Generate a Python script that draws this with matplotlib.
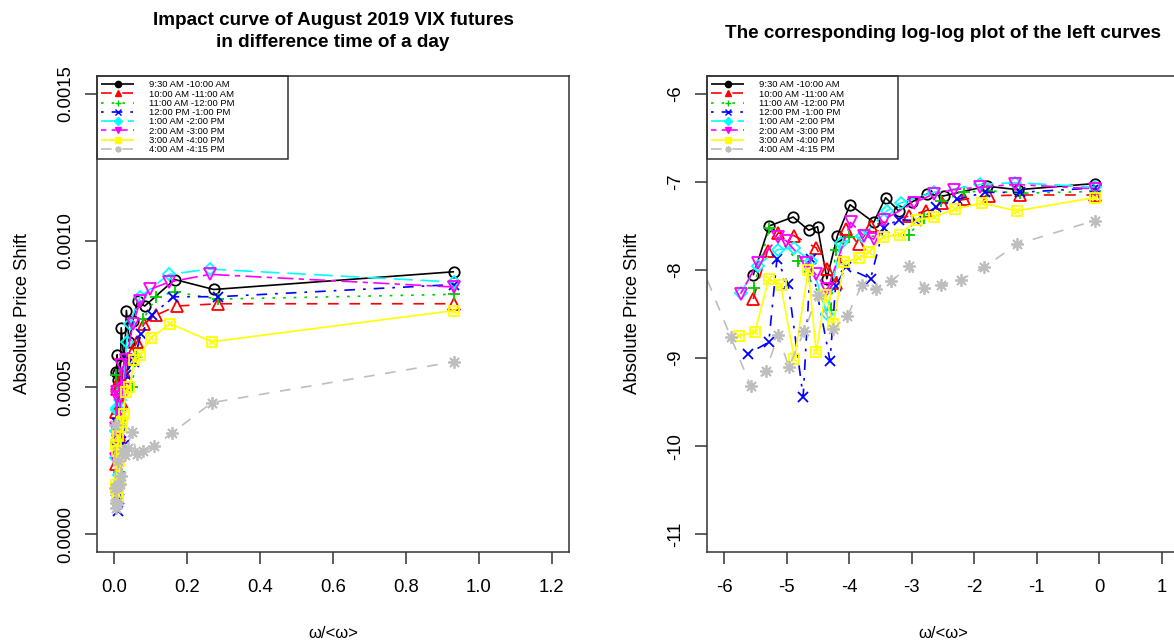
import numpy as np
import matplotlib
matplotlib.use("Agg")
import matplotlib.pyplot as plt
from matplotlib.lines import Line2D
from matplotlib.patches import Rectangle

plt.rcParams['font.family'] = ['Liberation Sans', 'DejaVu Sans']

# log(omega/<omega>) and log(price shift) per time window
x_0930 = [-5.54, -5.28, -4.90, -4.65, -4.51, -4.36, -4.19, -3.99, -3.61, -3.42, -3.21, -3.00, -2.76, -2.49, -1.80, -1.30, -0.07]
y_0930 = [-8.06, -7.50, -7.40, -7.55, -7.51, -8.10, -7.61, -7.26, -7.46, -7.18, -7.33, -7.23, -7.14, -7.16, -7.05, -7.09, -7.02]

x_1000 = [-5.54, -5.31, -5.14, -4.89, -4.53, -4.35, -4.22, -4.05, -3.85, -3.66, -3.05, -2.78, -2.51, -2.16, -1.77, -1.26, -0.07]
y_1000 = [-8.33, -7.78, -7.58, -7.61, -7.75, -7.99, -8.15, -7.54, -7.71, -7.50, -7.39, -7.33, -7.24, -7.20, -7.16, -7.15, -7.15]

x_1100 = [-5.53, -5.28, -4.83, -4.30, -4.22, -4.00, -3.05, -2.81, -2.54, -2.16, -1.80, -1.26, -0.07]
y_1100 = [-8.20, -7.52, -7.90, -8.46, -7.77, -7.63, -7.60, -7.41, -7.22, -7.12, -7.10, -7.13, -7.11]

x_1200 = [-5.62, -5.29, -5.16, -4.98, -4.74, -4.62, -4.31, -4.22, -4.05, -3.66, -3.45, -3.21, -2.94, -2.62, -2.27, -1.82, -1.26, -0.07]
y_1200 = [-8.95, -8.82, -7.88, -8.16, -9.44, -7.88, -9.03, -8.18, -7.97, -8.10, -7.52, -7.43, -7.44, -7.29, -7.20, -7.12, -7.12, -7.07]

x_1300 = [-5.74, -5.47, -5.15, -4.89, -4.62, -4.36, -4.14, -3.80, -3.40, -3.18, -2.65, -1.90, -1.34, -0.07]
y_1300 = [-8.26, -7.95, -7.77, -7.75, -7.90, -8.50, -7.69, -7.62, -7.33, -7.24, -7.12, -7.03, -7.01, -7.06]

x_1400 = [-5.74, -5.47, -5.14, -5.01, -4.70, -4.54, -4.35, -3.98, -3.77, -3.61, -3.45, -2.97, -2.65, -2.33, -1.90, -1.34, -0.07]
y_1400 = [-8.27, -7.92, -7.63, -7.67, -7.92, -8.05, -8.22, -7.46, -7.61, -7.65, -7.43, -7.24, -7.14, -7.09, -7.06, -7.03, -7.08]

x_1500 = [-5.76, -5.51, -5.29, -5.10, -4.88, -4.66, -4.53, -4.39, -4.26, -4.08, -3.85, -3.69, -3.46, -3.19, -2.91, -2.65, -2.30, -1.88, -1.32, -0.07]
y_1500 = [-8.75, -8.70, -8.10, -8.17, -9.01, -8.00, -8.93, -8.29, -8.61, -7.91, -7.87, -7.80, -7.63, -7.60, -7.43, -7.40, -7.31, -7.24, -7.33, -7.18]

x_1600 = [-6.40, -5.90, -5.58, -5.34, -5.14, -4.97, -4.72, -4.51, -4.26, -4.03, -3.80, -3.58, -3.33, -3.05, -2.80, -2.53, -2.21, -1.84, -1.32, -0.07]
y_1600 = [-7.90, -8.76, -9.32, -9.15, -8.74, -9.10, -8.69, -8.29, -8.67, -8.52, -8.17, -8.22, -8.13, -7.96, -8.20, -8.17, -8.11, -7.97, -7.71, -7.44]

labels = ["9:30 AM -10:00 AM", "10:00 AM -11:00 AM", "11:00 AM -12:00 PM", "12:00 PM -1:00 PM",
          "1:00 AM -2:00 PM", "2:00 AM -3:00 PM", "3:00 AM -4:00 PM", "4:00 AM -4:15 PM"]
xs = [x_0930, x_1000, x_1100, x_1200, x_1300, x_1400, x_1500, x_1600]
ys = [y_0930, y_1000, y_1100, y_1200, y_1300, y_1400, y_1500, y_1600]

# R base palette / lty / pch look-alikes
colors = ["#000000", "#FF0000", "#00CD00", "#0000FF", "#00FFFF", "#FF00FF", "#FFFF00", "#BEBEBE"]
dashes = [(0, ()), (0, (6.4, 6.4)), (0, (1.6, 4.8)), (0, (1.6, 4.8, 6.4, 4.8)),
          (0, (11.2, 4.8)), (0, (3.2, 3.2, 9.6, 3.2)), (0, ()), (0, (6.4, 6.4))]
markers = ["o", "^", "+", "x", "D", "v", "s", (8, 2, 0)]
msizes = [7.5, 8, 8.5, 7.5, 6.5, 8, 7, 9]

W, H = 1174, 643
fig = plt.figure(figsize=(W / 100, H / 100), dpi=100)
ax1 = fig.add_axes([97 / W, 91 / H, 472 / W, 476 / H])
ax2 = fig.add_axes([707 / W, 91 / H, 472 / W, 476 / H])

lw = 1.2
for i in range(8):
    lx = np.array(xs[i])
    ly = np.array(ys[i])
    for ax, px, py in [(ax1, np.exp(lx), np.exp(ly)), (ax2, lx, ly)]:
        ax.plot(px, py, color=colors[i], linestyle=dashes[i], lw=lw,
                marker=markers[i], ms=msizes[i], mfc='none', mec=colors[i], mew=1.3)
        if i == 6:
            # pch 7: square with a cross inside
            ax.plot(px, py, linestyle='none', marker='x', ms=5, mec=colors[i], mew=1.3)

spine_col = "#333333"
for ax in (ax1, ax2):
    for s in ax.spines.values():
        s.set_color(spine_col)
        s.set_linewidth(1.1)
    ax.tick_params(direction='out', length=8.5, width=1.1, color=spine_col, labelsize=13.3)
    ax.tick_params(axis='x', pad=11)
    ax.tick_params(axis='y', pad=8)

ax1.set_xlim(-0.048, 1.248)
ax1.set_ylim(-0.00006, 0.00156)
ax1.set_xticks([0.0, 0.2, 0.4, 0.6, 0.8, 1.0, 1.2])
ax1.set_xticklabels(["0.0", "0.2", "0.4", "0.6", "0.8", "1.0", "1.2"])
ax1.set_yticks([0.0, 0.0005, 0.0010, 0.0015])
ax1.set_yticklabels(["0.0000", "0.0005", "0.0010", "0.0015"], rotation=90, va='center')

ax2.set_xlim(-6.28, 1.28)
ax2.set_ylim(-11.2, -5.8)
ax2.set_xticks([-6, -5, -4, -3, -2, -1, 0, 1])
ax2.set_xticklabels(["-6", "-5", "-4", "-3", "-2", "-1", "0", "1"])
ax2.set_yticks([-6, -7, -8, -9, -10, -11])
ax2.set_yticklabels(["-6", "-7", "-8", "-9", "-10", "-11"], rotation=90, va='center')

for ax in (ax1, ax2):
    ax.set_ylabel("Absolute Price Shift", fontsize=13.3)
    ax.yaxis.set_label_coords(-0.14, 0.5)
    ax.set_xlabel("ω/<ω>", fontsize=12)
    ax.xaxis.set_label_coords(0.5, -0.155)

fig.text(333 / W, 1 - 31.5 / H, "Impact curve of August 2019 VIX futures\nin difference time of a day",
         ha='center', va='center', fontsize=13.6, fontweight='bold', linespacing=1.4)
fig.text(943 / W, 1 - 33 / H, "The corresponding log-log plot of the left curves",
         ha='center', va='center', fontsize=13.6, fontweight='bold')

# legends with an R-style box
handles = [Line2D([0], [0], color=colors[i], linestyle=dashes[i], lw=lw, marker=markers[i],
                  ms=4.5, mfc=colors[i], mec=colors[i], mew=1) for i in range(8)]
for ax in (ax1, ax2):
    ax.add_patch(Rectangle((0, 1 - 83 / 476), 191 / 472, 83 / 476, transform=ax.transAxes,
                           fill=False, edgecolor=spine_col, lw=1.1, clip_on=False, zorder=5))
    ax.legend(handles, labels, loc='upper left', bbox_to_anchor=(0, 1), frameon=False,
              fontsize=6.8, borderpad=0.45, borderaxespad=0, handlelength=3.5,
              handletextpad=1.6, labelspacing=0.03)

fig.savefig("out.png", dpi=100, facecolor='white')
